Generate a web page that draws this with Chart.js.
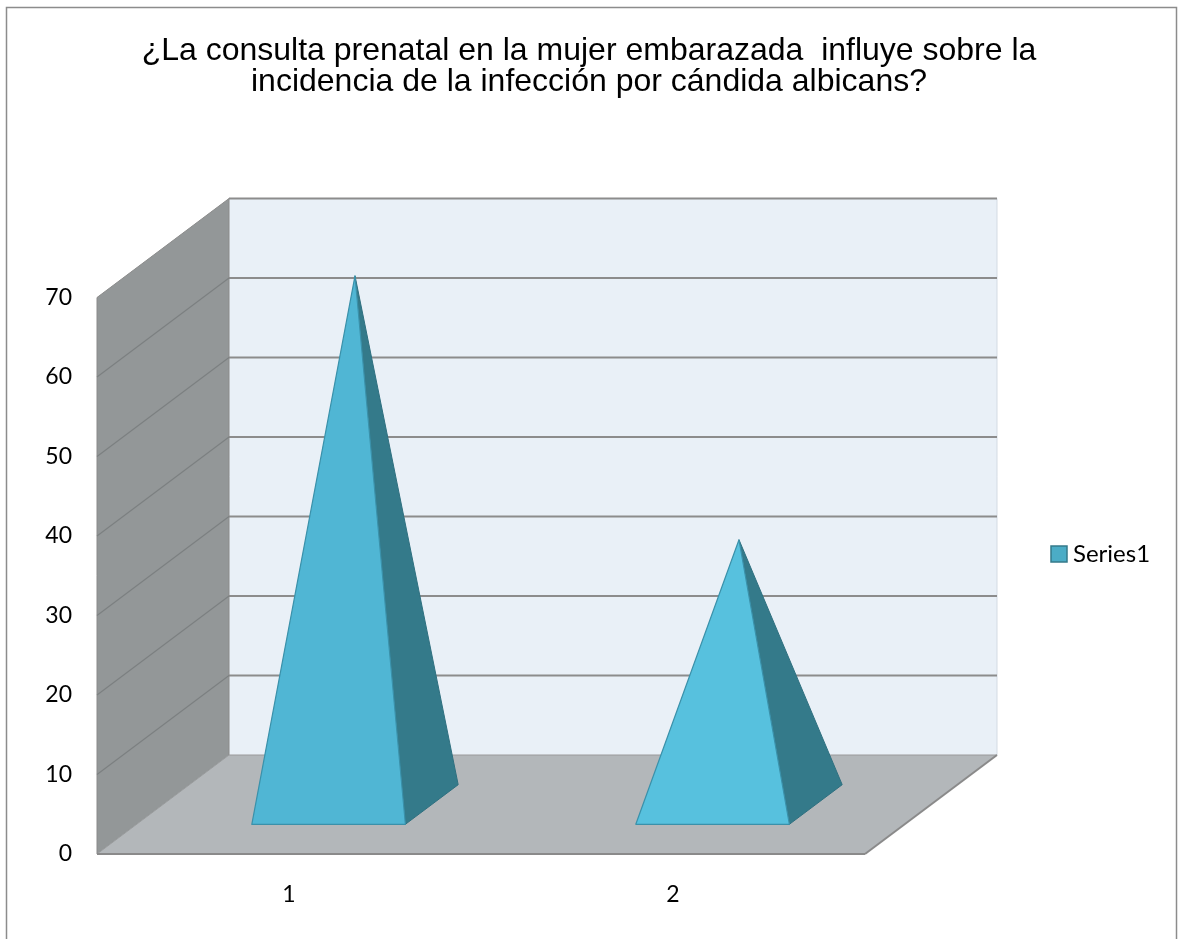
<!DOCTYPE html>
<html>
<head>
<meta charset="utf-8">
<script src="https://cdn.jsdelivr.net/npm/chart.js@4.4.1/dist/chart.umd.min.js"></script>
<style>
  html, body { margin: 0; padding: 0; background: #ffffff; }
  #wrap { width: 1178px; height: 939px; position: relative; }
</style>
</head>
<body>
<div id="wrap"><canvas id="chart" width="1178" height="939"></canvas></div>
<script>
// Data
const categories = ['1', '2'];
const seriesName = 'Series1';
const seriesValues = [66.5, 33.3];
const yTickValues = [0, 10, 20, 30, 40, 50, 60, 70];
const titleLines = [
  '¿La consulta prenatal en la mujer embarazada  influye sobre la',
  'incidencia de la infección por cándida albicans?'
];

// Styling
const DEPTH = { x: 132, y: -99 };          // full depth of the 3D box, in pixels
const PYRAMID_DEPTH = { front: 0.3, mid: 0.5, back: 0.7 };
const COLORS = {
  backWall: '#e9f0f7',
  sideWall: '#939798',
  floor: '#b3b7ba',
  grid: '#8c8c8c',
  sideGrid: '#7c8081',
  edge: '#8a8a8a',
  faceFront: ['#50b6d4', '#57c1de'],
  faceSide: '#347a8a',
  pyramidEdge: '#3a91aa',
  legendFill: '#4bacc6',
  legendStroke: '#347a8a'
};
const TICK_FONT = { family: 'Lato', size: 23 };
const LEGEND_FONT = { family: 'Lato', size: 24 };

const point = (x, y, f) => [x + f * DEPTH.x, y + f * DEPTH.y];

function poly(ctx, pts, fill, stroke, lw) {
  ctx.beginPath();
  ctx.moveTo(pts[0][0], pts[0][1]);
  for (let i = 1; i < pts.length; i++) ctx.lineTo(pts[i][0], pts[i][1]);
  ctx.closePath();
  if (fill) { ctx.fillStyle = fill; ctx.fill(); }
  if (stroke) { ctx.strokeStyle = stroke; ctx.lineWidth = lw || 1; ctx.lineJoin = 'round'; ctx.stroke(); }
}

function line(ctx, a, b, color, lw) {
  ctx.beginPath();
  ctx.moveTo(a[0], a[1]);
  ctx.lineTo(b[0], b[1]);
  ctx.strokeStyle = color;
  ctx.lineWidth = lw;
  ctx.stroke();
}

// Outer frame of the chart
const framePlugin = {
  id: 'frame',
  beforeDraw(chart) {
    const { ctx, width } = chart;
    ctx.save();
    ctx.strokeStyle = '#8c8c8c';
    ctx.lineWidth = 1.5;
    ctx.strokeRect(6.5, 7.5, width - 8, chart.height + 20);
    ctx.restore();
  }
};

// Back wall, side wall and floor of the 3D box, with gridlines at each tick
const wallsPlugin = {
  id: 'walls3d',
  beforeDatasetsDraw(chart) {
    const { ctx, chartArea: a, scales: { y } } = chart;
    const yMin = y.getPixelForValue(y.min);
    const yMax = y.getPixelForValue(y.max);
    ctx.save();

    // back wall
    const bl = point(a.left, yMax, 1), br = point(a.right, yMax, 1);
    const bbl = point(a.left, yMin, 1), bbr = point(a.right, yMin, 1);
    poly(ctx, [bl, br, bbr, bbl], COLORS.backWall);
    line(ctx, [br[0], br[1]], [bbr[0], bbr[1]], '#d3dbe3', 1);
    yTickValues.forEach(v => {
      if (v === y.min) return;
      const py = y.getPixelForValue(v);
      line(ctx, point(a.left, py, 1), point(a.right, py, 1), COLORS.grid, 2);
    });

    // side wall
    poly(ctx, [[a.left, yMax], point(a.left, yMax, 1), point(a.left, yMin, 1), [a.left, yMin]],
      COLORS.sideWall, COLORS.edge, 1);
    yTickValues.forEach(v => {
      if (v === y.min || v === y.max) return;
      const py = y.getPixelForValue(v);
      line(ctx, [a.left, py], point(a.left, py, 1), COLORS.sideGrid, 1.2);
    });

    // floor
    poly(ctx, [[a.left, yMin], point(a.left, yMin, 1), point(a.right, yMin, 1), [a.right, yMin]],
      COLORS.floor);
    line(ctx, point(a.left, yMin, 1), point(a.right, yMin, 1), '#9a9a9a', 1);
    line(ctx, [a.left, yMin], point(a.left, yMin, 1), '#9a9d9e', 1);
    line(ctx, [a.right, yMin], point(a.right, yMin, 1), COLORS.edge, 2);
    line(ctx, [a.left, yMin], [a.right, yMin], COLORS.edge, 2);
    ctx.restore();
  }
};

// Each bar is drawn as a square pyramid standing on the floor
const pyramidPlugin = {
  id: 'pyramids',
  afterDatasetsDraw(chart) {
    const { ctx } = chart;
    const meta = chart.getDatasetMeta(0);
    ctx.save();
    meta.data.forEach((bar, i) => {
      const { x, y, base, width } = bar.getProps(['x', 'y', 'base', 'width'], true);
      const hw = width / 2;
      const fl = point(x - hw, base, PYRAMID_DEPTH.front);
      const fr = point(x + hw, base, PYRAMID_DEPTH.front);
      const brp = point(x + hw, base, PYRAMID_DEPTH.back);
      const apex = point(x, y, PYRAMID_DEPTH.mid);
      poly(ctx, [fr, brp, apex], COLORS.faceSide, '#2f7080', 1);
      poly(ctx, [fl, fr, apex], COLORS.faceFront[i % COLORS.faceFront.length], COLORS.pyramidEdge, 1.2);
    });
    ctx.restore();
  }
};

// Legend entry at the right of the plot
const legendPlugin = {
  id: 'sideLegend',
  afterDraw(chart) {
    const { ctx } = chart;
    const label = chart.data.datasets[0].label;
    ctx.save();
    ctx.fillStyle = COLORS.legendFill;
    ctx.fillRect(1051, 546, 16, 16);
    ctx.strokeStyle = COLORS.legendStroke;
    ctx.lineWidth = 1.5;
    ctx.strokeRect(1051, 546, 16, 16);
    ctx.fillStyle = '#000000';
    ctx.font = `${LEGEND_FONT.size}px ${LEGEND_FONT.family}`;
    ctx.textBaseline = 'middle';
    ctx.textAlign = 'left';
    ctx.fillText(label, 1073, 554);
    ctx.restore();
  }
};

new Chart(document.getElementById('chart'), {
  type: 'bar',
  data: {
    labels: categories,
    datasets: [{
      label: seriesName,
      data: seriesValues,
      backgroundColor: 'rgba(0,0,0,0)',
      borderWidth: 0,
      categoryPercentage: 0.8,
      barPercentage: 0.5
    }]
  },
  options: {
    responsive: false,
    animation: false,
    devicePixelRatio: 1,
    layout: { padding: { left: 0, right: 0, top: 0, bottom: 0 } },
    plugins: {
      legend: { display: false },
      tooltip: { enabled: false },
      title: {
        display: true,
        text: titleLines,
        color: '#000000',
        font: { family: 'Liberation Sans', size: 32, weight: 'normal', lineHeight: 0.98 },
        padding: { top: 35, bottom: 199.8 }
      }
    },
    scales: {
      x: {
        grid: { display: false, drawTicks: false },
        border: { display: false },
        ticks: { color: '#000000', font: TICK_FONT, padding: 27 },
        afterFit(scale) { scale.height = 85; }
      },
      y: {
        min: 0,
        max: 70,
        grid: { display: false, drawTicks: false },
        border: { display: false },
        ticks: { stepSize: 10, color: '#000000', font: TICK_FONT, padding: 25 },
        afterFit(scale) { scale.width = 97; }
      },
      legendSpace: {
        type: 'linear',
        position: 'right',
        display: true,
        grid: { display: false, drawTicks: false },
        border: { display: false },
        ticks: { display: false },
        afterFit(scale) { scale.width = 313; }
      }
    }
  },
  plugins: [framePlugin, wallsPlugin, pyramidPlugin, legendPlugin]
});
</script>
</body>
</html>
